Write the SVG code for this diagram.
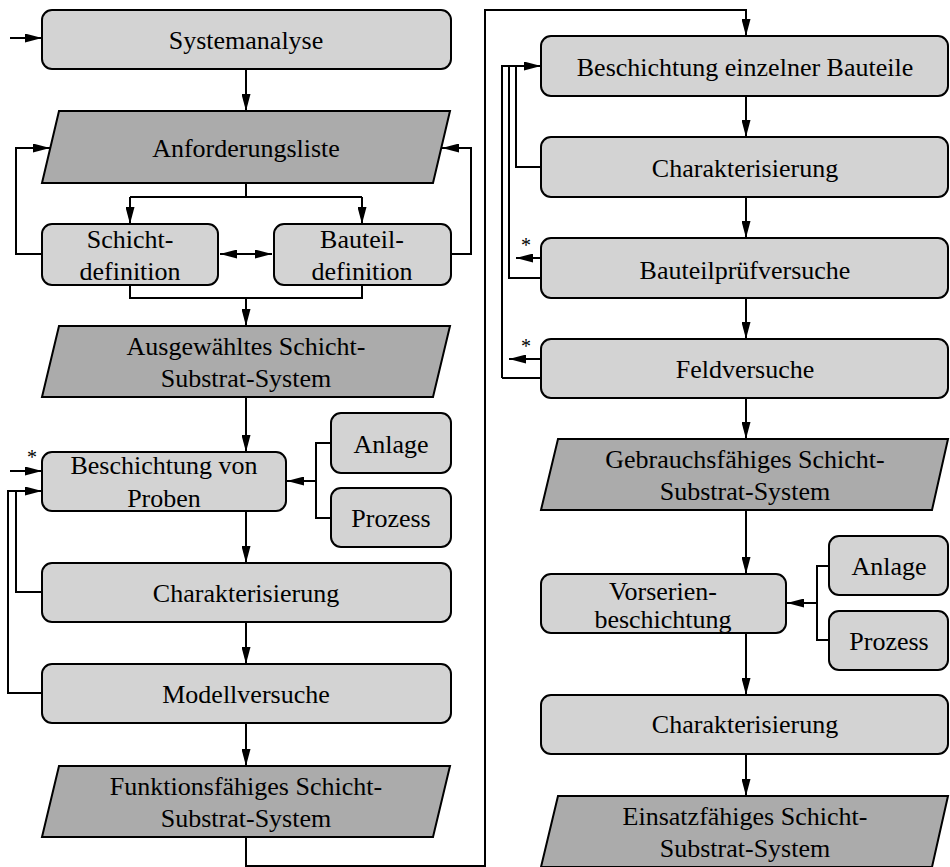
<svg xmlns="http://www.w3.org/2000/svg" width="950" height="867" viewBox="0 0 950 867">
  <style>
    .box { fill: #d3d3d3; stroke: #000; stroke-width: 2; }
    .data { fill: #ababab; stroke: #000; stroke-width: 2; stroke-linejoin: miter; }
    .lbl { font-size: 26px; fill: #000; text-anchor: middle; }
    .star { font-size: 20px; fill: #000; text-anchor: middle; }
    .wire { fill: none; stroke: #000; stroke-width: 2; }
    .arr { marker-end: url(#head); }
  </style>
  <defs>
    <marker id="head" markerUnits="userSpaceOnUse" markerWidth="18" markerHeight="9" refX="17" refY="4.5" orient="auto-start-reverse">
      <path d="M0,0 L17,4.5 L0,9 Z" fill="#000"/>
    </marker>
  </defs>

  <rect width="950" height="867" fill="#fff"/>

  <!-- connectors -->
  <g id="connectors" class="wire">
    <!-- left column -->
    <path class="arr" d="M10,38 H42"/>
    <path class="arr" d="M246,69 V111"/>
    <path d="M246,183 V197 M130,197 H362"/>
    <path class="arr" d="M130,197 V224"/>
    <path class="arr" d="M362,197 V224"/>
    <path class="arr" d="M42,254 H16 V148 H50"/>
    <path class="arr" d="M451,254 H471 V148 H442"/>
    <path d="M220,254 H272" marker-start="url(#head)" marker-end="url(#head)"/>
    <path d="M130,285 V298 H362 V285"/>
    <path class="arr" d="M246,298 V326"/>
    <path class="arr" d="M246,397 V452"/>
    <path class="arr" d="M10,471 H42"/>
    <path class="arr" d="M42,693 H8 V491 H42"/>
    <path d="M42,592 H16 V491"/>
    <path d="M331,443 H316 V518 H331"/>
    <path class="arr" d="M316,481 H287"/>
    <path class="arr" d="M246,511 V563"/>
    <path class="arr" d="M246,622 V664"/>
    <path class="arr" d="M246,723 V766"/>
    <!-- transfer to right column -->
    <path class="arr" d="M246,837 V866 H485 V10 H746 V36"/>
    <!-- right column -->
    <path class="arr" d="M746,96 V137"/>
    <path class="arr" d="M746,197 V238"/>
    <path class="arr" d="M746,298 V339"/>
    <path class="arr" d="M746,398 V439"/>
    <path class="arr" d="M746,510 V574"/>
    <path class="arr" d="M746,633 V695"/>
    <path class="arr" d="M746,754 V796"/>
    <path class="arr" d="M502,378 H541 M502,378 V66 H541"/>
    <path d="M541,278 H509 V66"/>
    <path d="M541,167 H516 V66"/>
    <path class="arr" d="M541,258 H516"/>
    <path class="arr" d="M541,359 H509"/>
    <path d="M829,566 H817 V640 H829"/>
    <path class="arr" d="M817,603 H787"/>
  </g>

  <g font-family="'Liberation Serif', Tinos, 'Times New Roman', 'DejaVu Serif', serif">
  <!-- feedback markers -->
  <g id="stars">
    <text class="star" x="32" y="464">*</text>
    <text class="star" x="526" y="252">*</text>
    <text class="star" x="526" y="353">*</text>
  </g>

  <!-- left column nodes -->
  <g id="systemanalyse">
    <rect class="box" x="42" y="10" width="409" height="59" rx="10"/>
    <text class="lbl" x="246" y="49">Systemanalyse</text>
  </g>
  <g id="anforderungsliste">
    <polygon class="data" points="59,111 450,111 433,183 42,183"/>
    <text class="lbl" x="246" y="157">Anforderungsliste</text>
  </g>
  <g id="schichtdefinition">
    <rect class="box" x="42" y="224" width="176" height="61" rx="10"/>
    <text class="lbl" x="130" y="248">Schicht-</text>
    <text class="lbl" x="130" y="280">definition</text>
  </g>
  <g id="bauteildefinition">
    <rect class="box" x="274" y="224" width="177" height="61" rx="10"/>
    <text class="lbl" x="362" y="248">Bauteil-</text>
    <text class="lbl" x="362" y="280">definition</text>
  </g>
  <g id="ausgewaehltes-system">
    <polygon class="data" points="59,326 450,326 433,397 42,397"/>
    <text class="lbl" x="246" y="355">Ausgewähltes Schicht-</text>
    <text class="lbl" x="246" y="387">Substrat-System</text>
  </g>
  <g id="beschichtung-proben">
    <rect class="box" x="42" y="452" width="244" height="59" rx="10"/>
    <text class="lbl" x="164" y="474">Beschichtung von</text>
    <text class="lbl" x="164" y="507">Proben</text>
  </g>
  <g id="anlage-links">
    <rect class="box" x="331" y="413" width="120" height="60" rx="10"/>
    <text class="lbl" x="391" y="453">Anlage</text>
  </g>
  <g id="prozess-links">
    <rect class="box" x="331" y="488" width="120" height="59" rx="10"/>
    <text class="lbl" x="391" y="527">Prozess</text>
  </g>
  <g id="charakterisierung-proben">
    <rect class="box" x="42" y="563" width="409" height="59" rx="10"/>
    <text class="lbl" x="246" y="602">Charakterisierung</text>
  </g>
  <g id="modellversuche">
    <rect class="box" x="42" y="664" width="409" height="59" rx="10"/>
    <text class="lbl" x="246" y="703">Modellversuche</text>
  </g>
  <g id="funktionsfaehiges-system">
    <polygon class="data" points="59,766 450,766 433,837 42,837"/>
    <text class="lbl" x="246" y="795">Funktionsfähiges Schicht-</text>
    <text class="lbl" x="246" y="827">Substrat-System</text>
  </g>

  <!-- right column nodes -->
  <g id="beschichtung-bauteile">
    <rect class="box" x="541" y="36" width="407" height="60" rx="10"/>
    <text class="lbl" x="745" y="76">Beschichtung einzelner Bauteile</text>
  </g>
  <g id="charakterisierung-bauteile">
    <rect class="box" x="541" y="137" width="407" height="60" rx="10"/>
    <text class="lbl" x="745" y="177">Charakterisierung</text>
  </g>
  <g id="bauteilpruefversuche">
    <rect class="box" x="541" y="238" width="407" height="60" rx="10"/>
    <text class="lbl" x="745" y="279">Bauteilprüfversuche</text>
  </g>
  <g id="feldversuche">
    <rect class="box" x="541" y="339" width="407" height="59" rx="10"/>
    <text class="lbl" x="745" y="378">Feldversuche</text>
  </g>
  <g id="gebrauchsfaehiges-system">
    <polygon class="data" points="558,439 948,439 932,510 541,510"/>
    <text class="lbl" x="745" y="468">Gebrauchsfähiges Schicht-</text>
    <text class="lbl" x="745" y="500">Substrat-System</text>
  </g>
  <g id="vorserienbeschichtung">
    <rect class="box" x="541" y="574" width="245" height="59" rx="10"/>
    <text class="lbl" x="663" y="600">Vorserien-</text>
    <text class="lbl" x="663" y="628">beschichtung</text>
  </g>
  <g id="anlage-rechts">
    <rect class="box" x="829" y="536" width="119" height="59" rx="10"/>
    <text class="lbl" x="889" y="575">Anlage</text>
  </g>
  <g id="prozess-rechts">
    <rect class="box" x="829" y="611" width="119" height="59" rx="10"/>
    <text class="lbl" x="889" y="650">Prozess</text>
  </g>
  <g id="charakterisierung-vorserie">
    <rect class="box" x="541" y="695" width="407" height="59" rx="10"/>
    <text class="lbl" x="745" y="733">Charakterisierung</text>
  </g>
  <g id="einsatzfaehiges-system">
    <polygon class="data" points="558,796 948,796 932,867 541,867"/>
    <text class="lbl" x="745" y="825">Einsatzfähiges Schicht-</text>
    <text class="lbl" x="745" y="857">Substrat-System</text>
  </g>
  </g>
</svg>
